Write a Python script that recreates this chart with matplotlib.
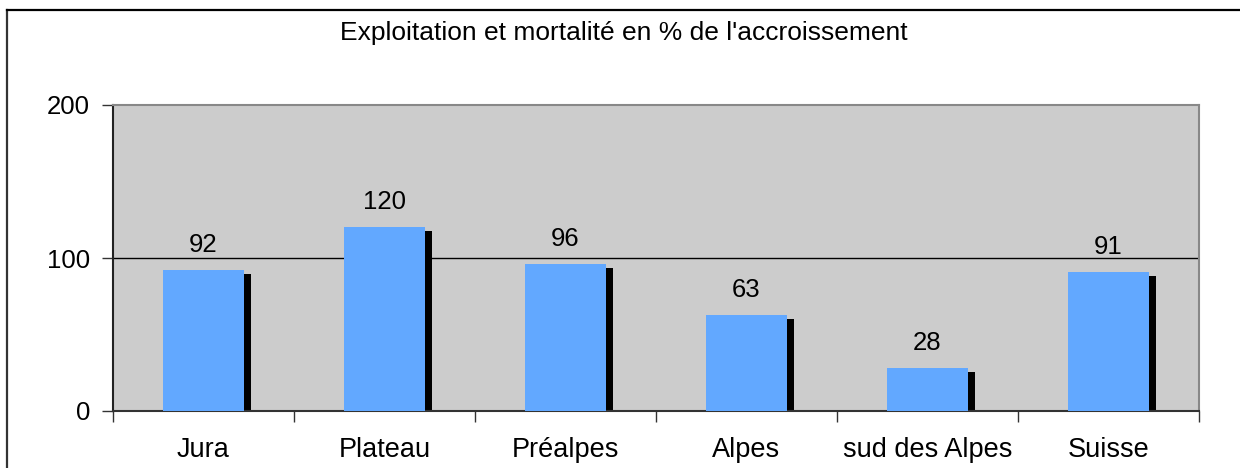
import matplotlib
matplotlib.use("Agg")
import matplotlib.pyplot as plt
import matplotlib.transforms as mtransforms
from matplotlib.lines import Line2D
import numpy as np

categories = ["Jura", "Plateau", "Préalpes", "Alpes", "sud des Alpes", "Suisse"]
values = [92, 120, 96, 63, 28, 91]
yticks = [0, 100, 200]
title = "Exploitation et mortalité en % de l'accroissement"

plt.rcParams['font.family'] = ['Liberation Sans', 'DejaVu Sans']

DPI = 100
fig = plt.figure(figsize=(12.4, 4.68), dpi=DPI)
fig.patch.set_facecolor('white')
ax = fig.add_axes([113/1240, 1-411/468, (1199-113)/1240, (411-105)/468])
ax.set_facecolor('#CCCCCC')

x = np.arange(len(categories))
width = 0.447

# shadow bars (offset right/down)
shadow_tr = ax.transData + mtransforms.ScaledTranslation(7/DPI, -4/DPI, fig.dpi_scale_trans)
ax.bar(x, values, width=width, color='black', transform=shadow_tr, zorder=2)
bars = ax.bar(x, values, width=width, color='#62A8FF', zorder=3)

for xi, v in zip(x, values):
    ax.annotate(str(v), (xi, v), xytext=(0, 18*72/DPI), textcoords='offset points',
                ha='center', va='baseline', fontsize=18.5, color='black', zorder=4)

ax.set_xlim(-0.5, len(categories)-0.5)
ax.set_ylim(0, 200)

ax.set_yticks(yticks)
ax.set_yticklabels([str(t) for t in yticks])
for t in yticks[1:-1]:
    ax.axhline(t, color='black', lw=1.0, zorder=1)

ax.set_xticks(np.arange(len(categories)+1) - 0.5)
ax.set_xticklabels([])
ax.set_xticks(x, minor=True)
ax.set_xticklabels(categories, minor=True)
ax.tick_params(axis='x', which='major', length=8, width=1, color='#333333', direction='out')
ax.tick_params(axis='x', which='minor', length=0, pad=26*72/DPI, labelsize=19.5)
ax.tick_params(axis='y', length=8, width=1, color='#333333', direction='out', pad=12*72/DPI, labelsize=18.5)

ax.spines['left'].set_color('#222222')
ax.spines['left'].set_linewidth(1.5)
ax.spines['bottom'].set_color('#333333')
ax.spines['bottom'].set_linewidth(1.5)
ax.spines['top'].set_color('#888888')
ax.spines['top'].set_linewidth(1.5)
ax.spines['right'].set_color('#888888')
ax.spines['right'].set_linewidth(1.5)

fig.text(624/1240, 1-33/468, title, ha='center', va='center', fontsize=19)

# outer chart frame (top and left edges visible)
fig.add_artist(Line2D([7/1240, 7/1240], [0, 1-10/468], transform=fig.transFigure, color='#333333', lw=1.6))
fig.add_artist(Line2D([7/1240, 1], [1-10/468, 1-10/468], transform=fig.transFigure, color='black', lw=1.6))

fig.savefig('out.png', dpi=DPI)
